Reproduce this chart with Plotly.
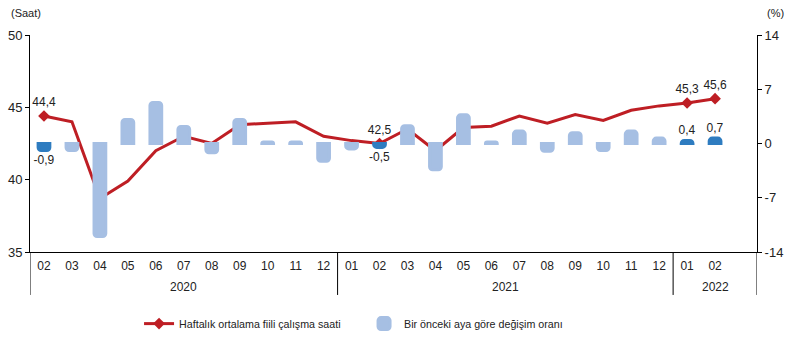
import plotly.graph_objects as go

years = ["2020"] * 11 + ["2021"] * 12 + ["2022"] * 2
months = ["02", "03", "04", "05", "06", "07", "08", "09", "10", "11", "12",
          "01", "02", "03", "04", "05", "06", "07", "08", "09", "10", "11", "12",
          "01", "02"]
hours = [44.4, 44.0, 38.7, 39.9, 42.0, 43.0, 42.5, 43.8, 43.9, 44.0, 43.0,
         42.7, 42.5, 43.5, 42.0, 43.6, 43.7, 44.4, 43.9, 44.5, 44.1, 44.8, 45.1,
         45.3, 45.6]
change = [-0.9, -0.9, -12.0, 3.1, 5.3, 2.2, -1.2, 3.1, 0.2, 0.2, -2.3,
          -0.7, -0.5, 2.3, -3.4, 3.7, 0.2, 1.6, -1.0, 1.4, -0.9, 1.6, 0.7,
          0.4, 0.7]
highlight = [True, False, False, False, False, False, False, False, False, False, False,
             False, True, False, False, False, False, False, False, False, False, False, False,
             True, True]

cats = [f"{y}-{m}" for y, m in zip(years, months)]
n_slots = len(cats) + 1  # one empty slot at the right end

def fmt(v):
    return f"{v:.1f}".replace(".", ",")

RED = "#BE1E24"
LIGHT = "#A6BFE3"
DARK = "#2E7CC0"

fig = go.Figure()

# light bars (non-highlighted)
fig.add_trace(go.Bar(
    x=cats, y=[None if h else v for v, h in zip(change, highlight)],
    yaxis="y2", marker=dict(color=LIGHT, line=dict(width=3, color=LIGHT)),
    width=0.42, name="Bir önceki aya göre değişim oranı", showlegend=True,
))
# dark highlighted bars
fig.add_trace(go.Bar(
    x=cats, y=[v if h else None for v, h in zip(change, highlight)],
    yaxis="y2", marker=dict(color=DARK, line=dict(width=3, color=DARK)),
    width=0.42, showlegend=False,
    text=[fmt(v) if h else "" for v, h in zip(change, highlight)],
    textposition="outside", constraintext="none", cliponaxis=False,
    textfont=dict(size=12, color="#222"),
))
# line
fig.add_trace(go.Scatter(
    x=cats, y=hours, mode="lines+markers+text",
    line=dict(color=RED, width=3),
    marker=dict(symbol="diamond", size=9,
                color=[RED if h else "rgba(0,0,0,0)" for h in highlight]),
    text=[fmt(v) if h else "" for v, h in zip(hours, highlight)],
    textposition="top center", textfont=dict(size=12, color="#222"),
    name="Haftalık ortalama fiili çalışma saati", cliponaxis=False,
))

# year group labels and dividers
groups = []
for i, y in enumerate(years):
    if not groups or groups[-1][0] != y:
        groups.append([y, i, i])
    else:
        groups[-1][2] = i
bounds = [-0.5]
for gi, (y, s, e) in enumerate(groups):
    right = e + 0.5 if gi < len(groups) - 1 else n_slots - 0.5
    fig.add_annotation(x=(s - 0.5 + right) / 2, y=-0.161, xref="x", yref="paper",
                       text=y, showarrow=False, yanchor="middle",
                       font=dict(size=12, color="#222"))
    bounds.append(right)
for b in bounds:
    fig.add_shape(type="line", xref="x", yref="paper", x0=b, x1=b, y0=0, y1=-0.198,
                  line=dict(color="black", width=1))

fig.add_annotation(x=0, y=1.12, xref="paper", yref="paper", text="(Saat)", showarrow=False,
                   xanchor="center", yanchor="middle", font=dict(size=11, color="#222"),
                   xshift=-4, yshift=-4)
fig.add_annotation(x=1, y=1.12, xref="paper", yref="paper", text="(%)", showarrow=False,
                   xanchor="center", yanchor="middle", font=dict(size=11, color="#222"),
                   xshift=18, yshift=-4)

fig.update_layout(
    width=800, height=343,
    margin=dict(l=30, r=43, t=35, b=91, autoexpand=False),
    paper_bgcolor="white", plot_bgcolor="white",
    font=dict(family="Liberation Sans, Arial, sans-serif", size=12, color="#222"),
    barmode="overlay", barcornerradius=3,
    xaxis=dict(type="category", categoryorder="array", categoryarray=cats,
               range=[-0.5, n_slots - 0.5], tickvals=cats, ticktext=months,
               showline=True, linecolor="black", linewidth=1, ticks="",
               showgrid=False, zeroline=False, tickfont=dict(size=12),
               ticklabelstandoff=3, automargin=False),
    yaxis=dict(range=[35, 50], dtick=5, showline=True, linecolor="black", linewidth=1,
               ticks="outside", ticklen=4, tickcolor="black", showgrid=False,
               zeroline=False, tickfont=dict(size=13), automargin=False),
    yaxis2=dict(range=[-14, 14], tickvals=[-14, -7, 0, 7, 14],
                ticktext=["-14", "-7", "0", "7", "14"], overlaying="y", side="right",
                showline=True, linecolor="black", linewidth=1, ticks="outside",
                ticklen=4, tickcolor="black", showgrid=False, zeroline=False,
                tickfont=dict(size=13), automargin=False),
    legend=dict(orientation="h", x=0.15, y=-0.33, xanchor="left", yanchor="middle",
                font=dict(size=10.7, color="#222"), entrywidth=180,
                entrywidthmode="pixels", traceorder="reversed"),
    showlegend=True,
)

fig.write_html("out.html")
